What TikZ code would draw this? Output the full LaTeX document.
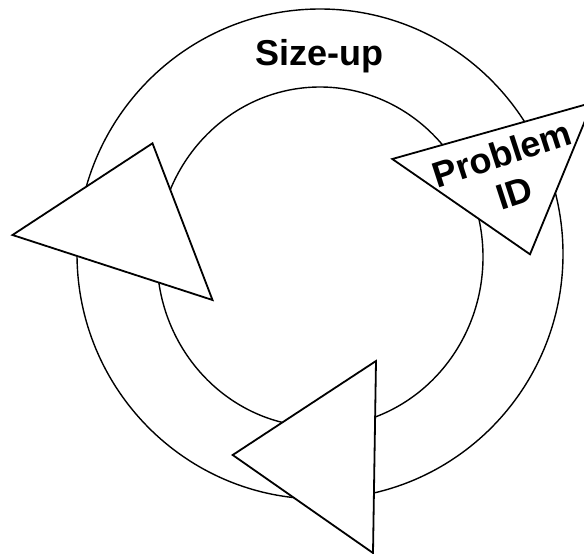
\documentclass[tikz,border=0pt]{standalone}
\usepackage{fontspec}
\newfontfamily\lblfont{Liberation Sans}
\begin{document}
\begin{tikzpicture}[
  x=1pt, y=-1pt,
  ring/.style={draw, line width=1.4pt},
  head/.style={draw, fill=white, line width=1.8pt, line join=miter},
  lbl/.style={font=\lblfont\bfseries\fontsize{36}{41}\selectfont,
              inner sep=0pt, align=center},
  ]
\useasboundingbox (0,0) rectangle (584,554);
\clip (0,0) rectangle (584,554);
% ---- rings
\coordinate (outerc) at (320,254);
\coordinate (innerc) at (320,257);
\draw[ring] (outerc) ellipse [x radius=243, y radius=245];
\draw[ring] (innerc) ellipse [x radius=163, y radius=170];
% ---- left head
\coordinate (l1) at (152.5,143.3);
\coordinate (l2) at (12.5,235);
\coordinate (l3) at (212.5,300);
\draw[head] (l1) -- (l2) -- (l3) -- cycle;
% ---- bottom head
\coordinate (b1) at (376,361);
\coordinate (b2) at (232.7,455);
\coordinate (b3) at (373,553);
\draw[head] (b1) -- (b2) -- (b3) -- cycle;
% ---- right head
\coordinate (r1) at (392.3,159);
\coordinate (r2) at (592.5,102.6);
\coordinate (r3) at (530,254.3);
\draw[head] (r1) -- (r2) -- (r3) -- cycle;
% ---- labels
\node[lbl, anchor=base] (sizeup) at (319.5,65) {Size-up};
\node[lbl, rotate=18] (probid) at (508,173) {Problem\\ID};
\end{tikzpicture}
\end{document}
